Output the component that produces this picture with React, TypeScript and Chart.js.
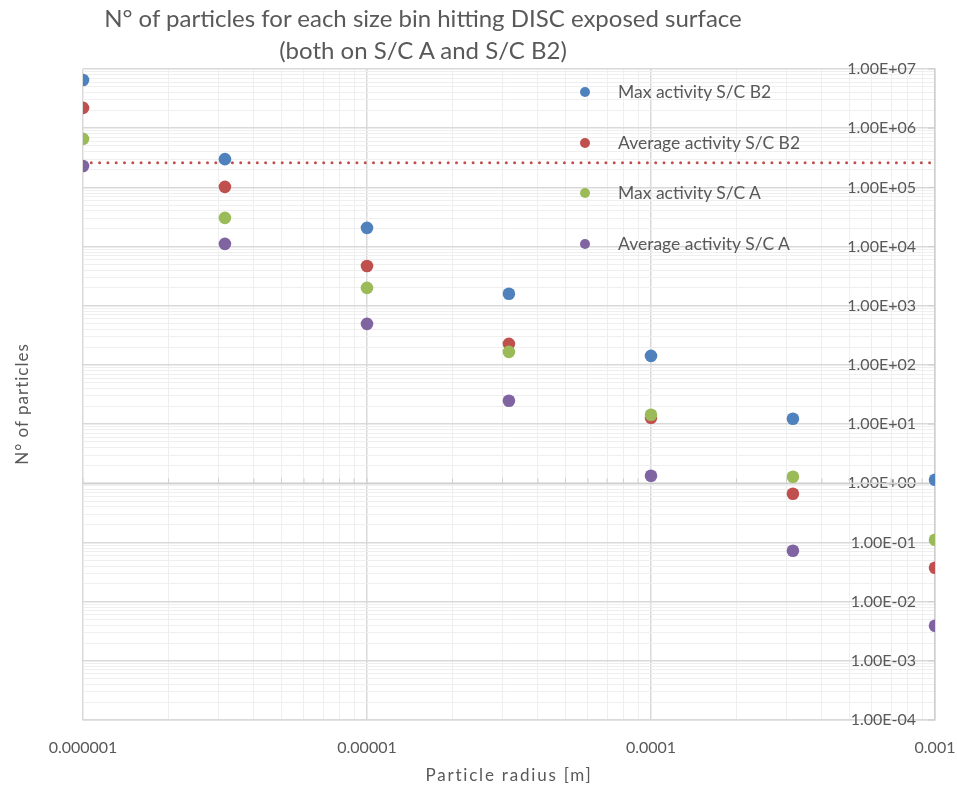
import React, { useEffect, useRef } from 'react';
import { Chart, registerables } from 'chart.js';

Chart.register(...registerables);

// ---- data ----
const radii = [1e-6, 3.16e-6, 1e-5, 3.16e-5, 1e-4, 3.16e-4, 1e-3];
const maxB2 = [6.5e6, 3.0e5, 2.07e4, 1.59e3, 142, 12.3, 1.15];
const avgB2 = [2.2e6, 1.02e5, 4.7e3, 227, 12.8, 0.665, 0.0374];
const maxA = [6.6e5, 3.05e4, 2.0e3, 166, 14.4, 1.29, 0.111];
const avgA = [2.3e5, 1.11e4, 494, 24.8, 1.34, 0.0724, 0.00392];
const thresholdX = [1e-6, 1e-3];
const thresholdY = [2.6e5, 2.6e5];

const seriesNames = [
  'Max activity S/C B2',
  'Average activity S/C B2',
  'Max activity S/C A',
  'Average activity S/C A',
];
const seriesColors = ['#4F81BD', '#C0504D', '#9BBB59', '#8064A2'];
const seriesValues = [maxB2, avgB2, maxA, avgA];

const xTickValues = [1e-6, 1e-5, 1e-4, 1e-3];
const xTickLabels = ['0.000001', '0.00001', '0.0001', '0.001'];
const yTickValues = [1e-4, 1e-3, 1e-2, 1e-1, 1, 1e1, 1e2, 1e3, 1e4, 1e5, 1e6, 1e7];
const yTickLabels = [
  '1.00E-04', '1.00E-03', '1.00E-02', '1.00E-01', '1.00E+00', '1.00E+01',
  '1.00E+02', '1.00E+03', '1.00E+04', '1.00E+05', '1.00E+06', '1.00E+07',
];

const titleLines = [
  'N° of particles for each size bin hitting DISC exposed surface',
  '(both on S/C A and S/C B2)',
];
const xTitle = 'Particle radius [m]';
const yTitle = 'N° of particles';

const FONT = 'Lato, "Open Sans", sans-serif';
const TEXT = '#595959';
const MAJOR = '#d9d9d9';
const MINOR = '#efefef';

const sameLog = (a: number, b: number) => Math.abs(Math.log10(a) - Math.log10(b)) < 1e-6;
const isDecade = (v: number) => {
  const l = Math.log10(v);
  return Math.abs(l - Math.round(l)) < 1e-6;
};
const logTicks = (decades: number[]) => {
  const out: { value: number; major: boolean }[] = [];
  for (let i = 0; i < decades.length - 1; i++) {
    for (let k = 1; k <= 9; k++) out.push({ value: k * decades[i], major: k === 1 });
  }
  out.push({ value: decades[decades.length - 1], major: true });
  return out;
};
const labelFor = (values: number[], labels: string[], v: number) => {
  const i = values.findIndex((t) => sameLog(t, v));
  return i >= 0 ? labels[i] : '';
};

const axisPlugin = {
  id: 'axisAtOne',
  beforeDatasetsDraw(chart: any) {
    const { ctx, chartArea, scales } = chart;
    const xs = scales.x;
    const ys = scales.y;
    const y1 = ys.getPixelForValue(1);
    ctx.save();
    ctx.strokeStyle = '#cfcfcf';
    ctx.lineWidth = 1.5;
    ctx.beginPath();
    ctx.moveTo(chartArea.left, y1);
    ctx.lineTo(chartArea.right, y1);
    ctx.stroke();
    ctx.lineWidth = 1;
    ctx.beginPath();
    for (const t of xs.ticks) {
      const px = xs.getPixelForValue(t.value);
      ctx.moveTo(px, y1);
      ctx.lineTo(px, y1 - 5);
    }
    for (const v of yTickValues) {
      const py = ys.getPixelForValue(v);
      ctx.moveTo(chartArea.right - 7, py);
      ctx.lineTo(chartArea.right, py);
    }
    ctx.stroke();
    ctx.restore();
  },
};

export default function App() {
  const ref = useRef<HTMLCanvasElement | null>(null);

  useEffect(() => {
    if (!ref.current) return;
    const datasets: any[] = seriesNames.map((name, i) => ({
      type: 'scatter',
      label: name,
      data: radii.map((x, j) => ({ x, y: seriesValues[i][j] })),
      backgroundColor: seriesColors[i],
      borderColor: seriesColors[i],
      borderWidth: 0,
      pointRadius: 6.3,
      pointHoverRadius: 6.3,
      order: 4 - i,
    }));
    datasets.push({
      type: 'line',
      label: 'threshold',
      data: thresholdX.map((x, j) => ({ x, y: thresholdY[j] })),
      borderColor: '#C0504D',
      borderWidth: 3,
      borderDash: [0, 8.3],
      borderCapStyle: 'round',
      pointRadius: 0,
      fill: false,
      order: 10,
    });

    const chart = new Chart(ref.current, {
      type: 'scatter',
      data: { datasets },
      plugins: [axisPlugin],
      options: {
        animation: false,
        responsive: false,
        layout: { padding: { left: 83, top: 69, right: 0, bottom: 0 } },
        plugins: {
          legend: { display: false },
          title: { display: false },
          tooltip: { enabled: false },
        },
        scales: {
          x: {
            type: 'logarithmic',
            min: 1e-6,
            max: 1e-3,
            afterBuildTicks: (s: any) => {
              s.ticks = logTicks(xTickValues);
            },
            afterFit: (s: any) => {
              s.height = 69;
              s.paddingLeft = 0;
              s.paddingRight = 0;
            },
            ticks: {
              autoSkip: false,
              maxRotation: 0,
              padding: 18,
              color: TEXT,
              font: { family: FONT, size: 16 },
              callback: (v: any) => labelFor(xTickValues, xTickLabels, Number(v)),
            },
            grid: {
              drawTicks: false,
              color: (c: any) => (c.tick && isDecade(c.tick.value) ? MAJOR : MINOR),
              lineWidth: (c: any) => (c.tick && isDecade(c.tick.value) ? 1.5 : 1),
            },
            border: { display: true, color: MAJOR, width: 1.5 },
          },
          y: {
            type: 'logarithmic',
            position: 'right',
            min: 1e-4,
            max: 1e7,
            afterBuildTicks: (s: any) => {
              s.ticks = logTicks(yTickValues);
            },
            afterFit: (s: any) => {
              s.width = 22;
              s.paddingTop = 0;
              s.paddingBottom = 0;
            },
            ticks: {
              mirror: true,
              autoSkip: false,
              padding: -19,
              color: TEXT,
              font: { family: FONT, size: 16 },
              callback: (v: any) => labelFor(yTickValues, yTickLabels, Number(v)),
            },
            grid: {
              drawTicks: false,
              color: (c: any) => (c.tick && isDecade(c.tick.value) ? MAJOR : MINOR),
              lineWidth: (c: any) => (c.tick && isDecade(c.tick.value) ? 1.5 : 1),
            },
            border: { display: true, color: '#cfcfcf', width: 1.5 },
          },
        },
      } as any,
    });
    return () => chart.destroy();
  }, []);

  const legendTop = 92;
  const legendStep = 50.7;

  return (
    <div
      style={{
        position: 'fixed',
        left: 0,
        top: 0,
        width: 957,
        height: 789,
        background: '#fff',
        fontFamily: FONT,
        color: TEXT,
        overflow: 'hidden',
      }}
    >
      <canvas ref={ref} width={957} height={789} style={{ position: 'absolute', left: 0, top: 0 }} />
      <div
        style={{
          position: 'absolute',
          left: 0,
          top: 2,
          width: 846,
          textAlign: 'center',
          fontSize: 24,
          lineHeight: '32px',
          whiteSpace: 'nowrap',
        }}
      >
        {titleLines.map((l) => (
          <div key={l}>{l}</div>
        ))}
      </div>
      {seriesNames.map((name, i) => (
        <React.Fragment key={name}>
          <div
            style={{
              position: 'absolute',
              left: 580,
              top: legendTop + i * legendStep - 5,
              width: 10,
              height: 10,
              borderRadius: '50%',
              background: seriesColors[i],
            }}
          />
          <div
            style={{
              position: 'absolute',
              left: 618,
              top: legendTop + i * legendStep - 12,
              fontSize: 17.5,
              lineHeight: '24px',
              whiteSpace: 'nowrap',
            }}
          >
            {name}
          </div>
        </React.Fragment>
      ))}
      <div
        style={{
          position: 'absolute',
          left: 309,
          width: 400,
          top: 763,
          textAlign: 'center',
          fontSize: 17,
          lineHeight: '24px',
          letterSpacing: 1.8,
        }}
      >
        {xTitle}
      </div>
      <div
        style={{
          position: 'absolute',
          left: 22 - 100,
          top: 404 - 12,
          width: 200,
          textAlign: 'center',
          fontSize: 17,
          lineHeight: '24px',
          letterSpacing: 1,
          transform: 'rotate(-90deg)',
          transformOrigin: '50% 50%',
        }}
      >
        {yTitle}
      </div>
    </div>
  );
}
